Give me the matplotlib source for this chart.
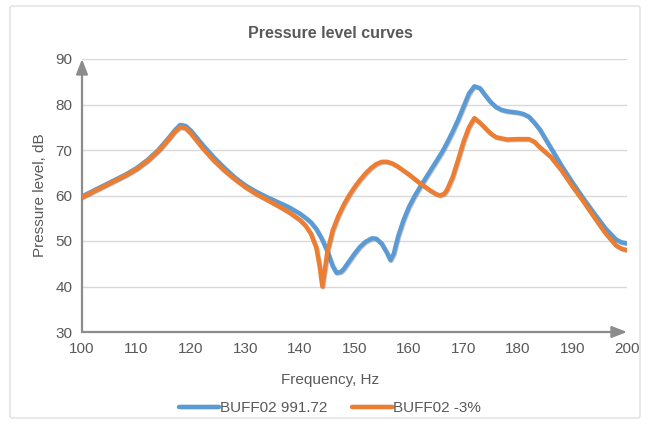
import matplotlib
matplotlib.use("Agg")
import matplotlib.pyplot as plt
import matplotlib.patheffects as pe
from matplotlib.patches import FancyBboxPatch

plt.rcParams['font.family'] = ['Liberation Sans', 'DejaVu Sans']

title = "Pressure level curves"
x_label = "Frequency, Hz"
y_label = "Pressure level, dB"
series_names = ["BUFF02 991.72", "BUFF02 -3%"]

freq_blue = [100, 102, 104, 106, 108, 110, 112, 114, 116, 117, 118, 119, 120, 122, 124,
             126, 128, 130, 132, 134, 136, 138, 140, 141, 142, 143, 144, 145, 146, 146.7,
             147.5, 148, 149, 150, 151, 152, 153.2, 154, 155, 156, 156.6, 157.2, 158, 159, 160, 161, 162, 163, 164,
             165, 166, 167, 168, 169, 170, 171, 172, 173, 174, 175, 176, 177, 178, 180, 181, 182,
             183, 184, 186, 188, 190, 192, 194, 196, 198, 199, 200]
level_blue = [59.8, 61.0, 62.2, 63.4, 64.6, 66.0, 67.8, 70.0, 72.8, 74.3, 75.5, 75.3, 74.2, 71.3, 68.6,
              66.2, 64.0, 62.2, 60.8, 59.6, 58.5, 57.4, 56.0, 55.1, 54.1, 52.6, 50.5, 47.8, 44.5, 43.0,
              43.2, 43.8, 45.5, 47.2, 48.7, 49.8, 50.6, 50.5, 49.4, 47.3, 45.8, 47.2, 51.0, 54.6, 57.5, 59.8, 61.8, 63.7, 65.6,
              67.5, 69.4, 71.6, 74.0, 76.6, 79.5, 82.4, 84.0, 83.6, 82.0, 80.5, 79.4, 78.8, 78.5, 78.2, 77.9, 77.3,
              76.0, 74.5, 70.5, 66.5, 62.8, 59.3, 56.0, 52.8, 50.3, 49.7, 49.5]

freq_orange = [100, 102, 104, 106, 108, 110, 112, 114, 116, 117, 118, 119, 120, 122, 124,
               126, 128, 130, 132, 134, 136, 138, 140, 141, 142, 143, 143.6, 144.1, 144.6, 145, 146,
               147, 148, 149, 150, 151, 152, 153, 154, 155, 156, 157, 158, 160, 162, 164, 165, 165.7, 166.5, 167, 168,
               169, 170, 171, 172, 173, 174, 175, 176, 178, 180, 182, 183, 184, 186, 188,
               190, 192, 194, 196, 198, 199, 200]
level_orange = [59.6, 60.8, 62.0, 63.2, 64.4, 65.8, 67.6, 69.8, 72.5, 74.0, 75.0, 74.8, 73.6, 70.6, 67.9,
                65.6, 63.6, 61.8, 60.3, 59.0, 57.7, 56.3, 54.6, 53.4, 51.6, 48.5, 44.5, 40.0, 44.0, 47.5, 52.3,
                55.4, 57.9, 60.0, 61.8, 63.4, 64.8, 66.0, 66.9, 67.4, 67.4, 67.0, 66.3, 64.6, 62.7, 61.0, 60.3, 60.0, 60.4, 61.3, 64.0,
                67.8, 71.8, 75.0, 77.0, 76.0, 74.8, 73.6, 72.8, 72.3, 72.4, 72.4, 71.8, 70.6, 68.5, 65.5,
                62.0, 58.7, 55.2, 51.8, 49.0, 48.3, 48.0]

x_ticks = [100, 110, 120, 130, 140, 150, 160, 170, 180, 190, 200]
y_ticks = [30, 40, 50, 60, 70, 80, 90]

blue = "#5b9bd5"
orange = "#ed7d31"
text_gray = "#595959"
axis_gray = "#8c8c8c"
grid_gray = "#d9d9d9"

fig = plt.figure(figsize=(6.49, 4.28), dpi=100)
fig.patch.set_facecolor("white")

# chart area border
border = FancyBboxPatch((10 / 649, 10 / 428), 630 / 649, 412 / 428,
                        boxstyle="round,pad=0,rounding_size=0.004",
                        transform=fig.transFigure, facecolor="white",
                        edgecolor="#d9d9d9", linewidth=0.8, zorder=-10)
fig.patches.append(border)

ax = fig.add_axes([82 / 649, 1 - 332 / 428, (627 - 82) / 649, (332 - 59) / 428])
ax.set_zorder(1)
ax.set_facecolor("none")
ax.set_xlim(100, 200)
ax.set_ylim(30, 90)
ax.set_xticks(x_ticks)
ax.set_yticks(y_ticks)
ax.tick_params(length=0, colors=text_gray, labelsize=11, pad=7)
for lab in ax.get_xticklabels() + ax.get_yticklabels():
    lab.set_color(text_gray)
ax.grid(axis="y", color=grid_gray, linewidth=1.0)
ax.set_axisbelow(True)
for s in ax.spines.values():
    s.set_visible(False)

# arrow axes
ax.annotate("", xy=(1.0, 0), xytext=(0, 0), xycoords="axes fraction",
            arrowprops=dict(arrowstyle="-|>,head_length=0.9,head_width=0.35",
                            color=axis_gray, lw=1.6, shrinkA=0, shrinkB=0), annotation_clip=False)
ax.annotate("", xy=(0, 1.0), xytext=(0, 0), xycoords="axes fraction",
            arrowprops=dict(arrowstyle="-|>,head_length=0.9,head_width=0.35",
                            color=axis_gray, lw=1.6, shrinkA=0, shrinkB=0), annotation_clip=False)

shadow = [pe.SimpleLineShadow(offset=(0.6, -0.6), shadow_color="#555555", alpha=0.35), pe.Normal()]
ax.plot(freq_blue, level_blue, color=blue, lw=3.2, solid_capstyle="round",
        solid_joinstyle="round", label=series_names[0], path_effects=shadow, zorder=3)
ax.plot(freq_orange, level_orange, color=orange, lw=3.2, solid_capstyle="round",
        solid_joinstyle="round", label=series_names[1], path_effects=shadow, zorder=4)

fig.text(330 / 649, 1 - 33 / 428, title, ha="center", va="center",
         fontsize=11.5, fontweight="bold", color=text_gray)
fig.text(330 / 649, 1 - 380 / 428, x_label, ha="center", va="center",
         fontsize=11, color=text_gray)
fig.text(40 / 649, 1 - 195 / 428, y_label, ha="center", va="center",
         rotation=90, fontsize=11, color=text_gray)

handles, labels = ax.get_legend_handles_labels()
leg = fig.legend(handles, labels, loc="center", bbox_to_anchor=(330 / 649, 1 - 408 / 428),
                 ncol=2, frameon=False, fontsize=11, handlelength=2.6,
                 handletextpad=0.1, columnspacing=1.6)
for t in leg.get_texts():
    t.set_color(text_gray)

fig.savefig("out.png", dpi=100)
